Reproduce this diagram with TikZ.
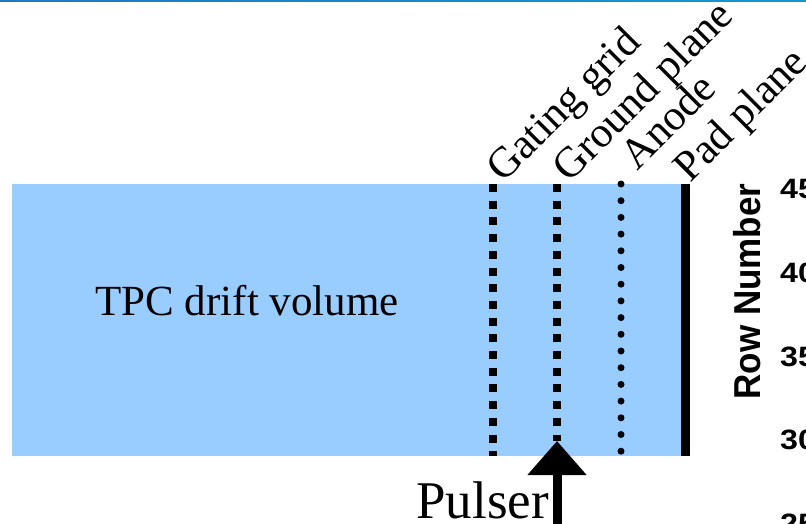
\documentclass[tikz,border=0pt]{standalone}
\usepackage{fontspec}
\setmainfont{Liberation Serif}
\setsansfont{Liberation Sans}
\usetikzlibrary{arrows.meta}
\definecolor{driftblue}{HTML}{99CCFF}
\definecolor{stripA}{RGB}{30,120,200}
\definecolor{stripB}{RGB}{25,70,170}
\definecolor{stripC}{RGB}{20,150,210}

\tikzset{
  planelabel/.style={rotate=45, anchor=base west, inner sep=0pt,
    font=\fontsize{43}{50}\selectfont},
  gridline/.style={line width=7.5pt, dash pattern=on 8pt off 8.7pt},
  anodeline/.style={line width=7pt, line cap=round, dash pattern=on 0pt off 16.7pt},
  padline/.style={line width=9pt},
  rowtick/.style={anchor=west, inner sep=0pt,
    font=\sffamily\bfseries\fontsize{28}{32}\selectfont},
}

\begin{document}
\begin{tikzpicture}[x=1pt, y={(0pt,-1pt)}]
\useasboundingbox (0,0) rectangle (806,524);
\clip (0,0) rectangle (806,524);

% thin banner strip along the top edge
\shade[left color=stripA, middle color=stripB, right color=stripC]
  (0,0) rectangle (806,1.6);

% drift volume
\node[fill=driftblue, inner sep=0pt, minimum width=673pt, minimum height=272pt,
      anchor=north west] (vol) at (12,184) {};
\node[anchor=base, inner sep=0pt, font=\fontsize{43}{50}\selectfont]
  (voltext) at (247,315) {TPC drift volume};

% wire planes
\coordinate (ggtop) at (493,184);  \coordinate (ggbot) at (493,456);
\coordinate (gptop) at (557,184);  \coordinate (gpbot) at (557,441);
\coordinate (antop) at (621,184);  \coordinate (anbot) at (621,452);
\coordinate (pptop) at (685.5,184); \coordinate (ppbot) at (685.5,456);

\draw[gridline] (ggtop) -- (ggbot);
\draw[gridline] (gptop) -- (gpbot);
\draw[anodeline] (antop) -- (anbot);
\draw[padline] (pptop) -- (ppbot);

% plane labels
\node[planelabel] (lgg) at (503,184) {Gating grid};
\node[planelabel] (lgp) at (569,184) {Ground plane};
\node[planelabel] (lan) at (637,172) {Anode};
\node[planelabel] (lpp) at (690,184) {Pad plane};

% pulser injection
\coordinate (pulsebase) at (557,530);
\draw[line width=9pt, -{Triangle[width=57pt, length=34pt]}] (pulsebase) -- (gpbot);
\node[anchor=base east, inner sep=0pt, font=\fontsize{53}{60}\selectfont]
  (pulser) at (549,518) {Pulser};

% row axis
\node[rotate=90, inner sep=0pt, font=\sffamily\bfseries\fontsize{35}{40}\selectfont]
  (rowlabel) at (747.5,291.5) {\scalebox{1}[1.07]{Row Number}};
\node[rowtick] (r45) at (780,189.5) {\scalebox{1.15}[1]{45}};
\node[rowtick] (r40) at (780,273) {\scalebox{1.15}[1]{40}};
\node[rowtick] (r35) at (780,356.5) {\scalebox{1.15}[1]{35}};
\node[rowtick] (r30) at (780,440) {\scalebox{1.15}[1]{30}};
\node[rowtick] (r25) at (780,523.5) {\scalebox{1.15}[1]{25}};
\end{tikzpicture}
\end{document}
